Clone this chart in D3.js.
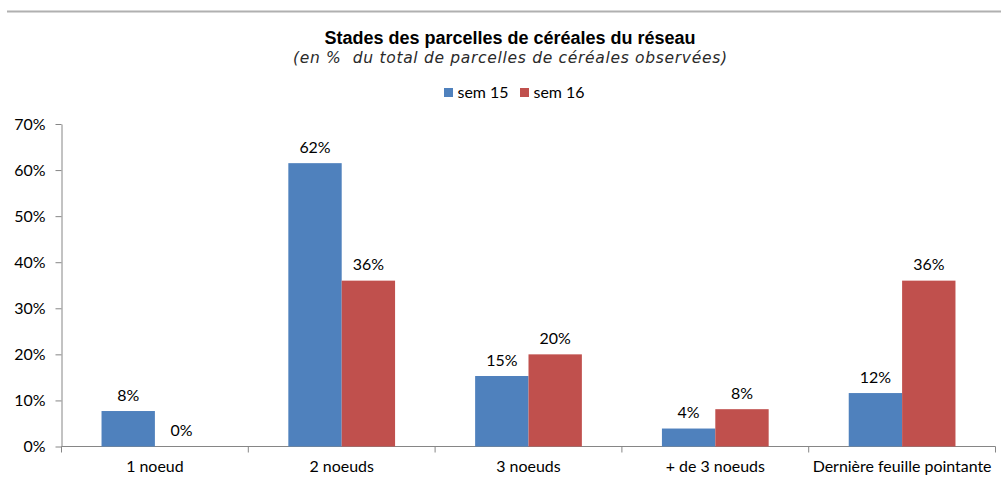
<!DOCTYPE html>
<html><head><meta charset="utf-8">
<script src="https://cdn.jsdelivr.net/npm/d3@7"></script>
<style>body{margin:0;background:#fff}svg{display:block}</style>
</head><body>
<svg id="c" width="1001" height="479"></svg>
<script>
const categories = ["1 noeud", "2 noeuds", "3 noeuds", "+ de 3 noeuds", "Dernière feuille pointante"];
const seriesNames = ["sem 15", "sem 16"];
const sem15 = [7.7, 61.5, 15.3, 3.9, 11.6];
const sem16 = [0, 36.0, 20.0, 8.1, 36.0];
const labels15 = ["8%", "62%", "15%", "4%", "12%"];
const labels16 = ["0%", "36%", "20%", "8%", "36%"];
const yTicks = [0, 10, 20, 30, 40, 50, 60, 70];
const colors = ["#4F81BD", "#C0504D"];

(function () {
const svg = d3.select("#c");
const mLeft = 61.5, mRight = 995.5, mTop = 124, mBottom = 446.5;
const font = "Lato, 'Liberation Sans', sans-serif";

// fit the label font size to the reference width of the longest label
const probe = svg.append("text").attr("font-family", font).attr("font-size", 10).text(categories[4]);
const fs = Math.min(16, 10 * 179 / probe.node().getComputedTextLength());
probe.remove();

// top rule
svg.append("line").attr("x1", 7).attr("x2", 1001).attr("y1", 11.5).attr("y2", 11.5)
  .attr("stroke", "#b0b0b0").attr("stroke-width", 2);

svg.append("text").attr("x", 510).attr("y", 44).attr("text-anchor", "middle")
  .attr("font-family", "'Liberation Sans', Arial, sans-serif").attr("font-weight", "bold")
  .attr("font-size", 18).attr("fill", "#000")
  .text("Stades des parcelles de céréales du réseau");
svg.append("text").attr("x", 510).attr("y", 63).attr("text-anchor", "middle")
  .attr("font-family", "'DejaVu Sans', sans-serif").attr("font-style", "italic")
  .attr("font-size", 15.5).attr("fill", "#2a2a2a").style("white-space", "pre")
  .attr("textLength", 434).attr("lengthAdjust", "spacing")
  .text("(en %  du total de parcelles de céréales observées)");

const x0 = d3.scaleBand().domain(categories).range([mLeft, mRight]).paddingInner(0).paddingOuter(0);
const x1 = d3.scaleBand().domain(seriesNames).range([0, x0.bandwidth()]).paddingInner(0).paddingOuter(0.75);
const y = d3.scaleLinear().domain([0, 70]).range([mBottom, mTop]);

// legend
const lg = svg.append("g");
const legX = [444, 520];
seriesNames.forEach((s, i) => {
  lg.append("rect").attr("x", legX[i]).attr("y", 88).attr("width", 9).attr("height", 9).attr("fill", colors[i]);
  lg.append("text").attr("x", legX[i] + 13.5).attr("y", 97.5).attr("font-family", font)
    .attr("font-size", fs).attr("fill", "#000").text(s);
});

// axes
const yAxis = d3.axisLeft(y).tickValues(yTicks).tickFormat(d => d + "%").tickSize(6).tickSizeOuter(0);
const gy = svg.append("g").attr("transform", `translate(${mLeft},0)`).call(yAxis);
gy.select(".domain").attr("stroke", "#868686");
gy.selectAll(".tick line").attr("stroke", "#868686");
gy.selectAll(".tick text").attr("font-family", font).attr("font-size", fs).attr("fill", "#000").attr("x", -16);

const xTickPos = categories.map(c => x0(c)).concat([mRight]);
svg.append("line").attr("x1", mLeft).attr("x2", mRight).attr("y1", mBottom).attr("y2", mBottom).attr("stroke", "#868686");
svg.selectAll(".xt").data(xTickPos).join("line").attr("x1", d => d).attr("x2", d => d)
  .attr("y1", mBottom).attr("y2", mBottom + 6).attr("stroke", "#868686");
svg.selectAll(".xl").data(categories).join("text")
  .attr("x", d => x0(d) + x0.bandwidth() / 2).attr("y", 471.5).attr("text-anchor", "middle")
  .attr("font-family", font).attr("font-size", fs).attr("fill", "#000").text(d => d);

// bars
const data = [sem15, sem16];
const labs = [labels15, labels16];
seriesNames.forEach((s, si) => {
  svg.selectAll(".b" + si).data(categories).join("rect")
    .attr("x", c => x0(c) + x1(s)).attr("width", x1.bandwidth())
    .attr("y", (c, i) => y(data[si][i])).attr("height", (c, i) => mBottom - y(data[si][i]))
    .attr("fill", colors[si]);
  svg.selectAll(".l" + si).data(categories).join("text")
    .attr("x", c => x0(c) + x1(s) + x1.bandwidth() / 2)
    .attr("y", (c, i) => y(data[si][i]) - 10.5).attr("text-anchor", "middle")
    .attr("font-family", font).attr("font-size", fs).attr("fill", "#000")
    .text((c, i) => labs[si][i]);
});
})();
</script>
</body></html>
